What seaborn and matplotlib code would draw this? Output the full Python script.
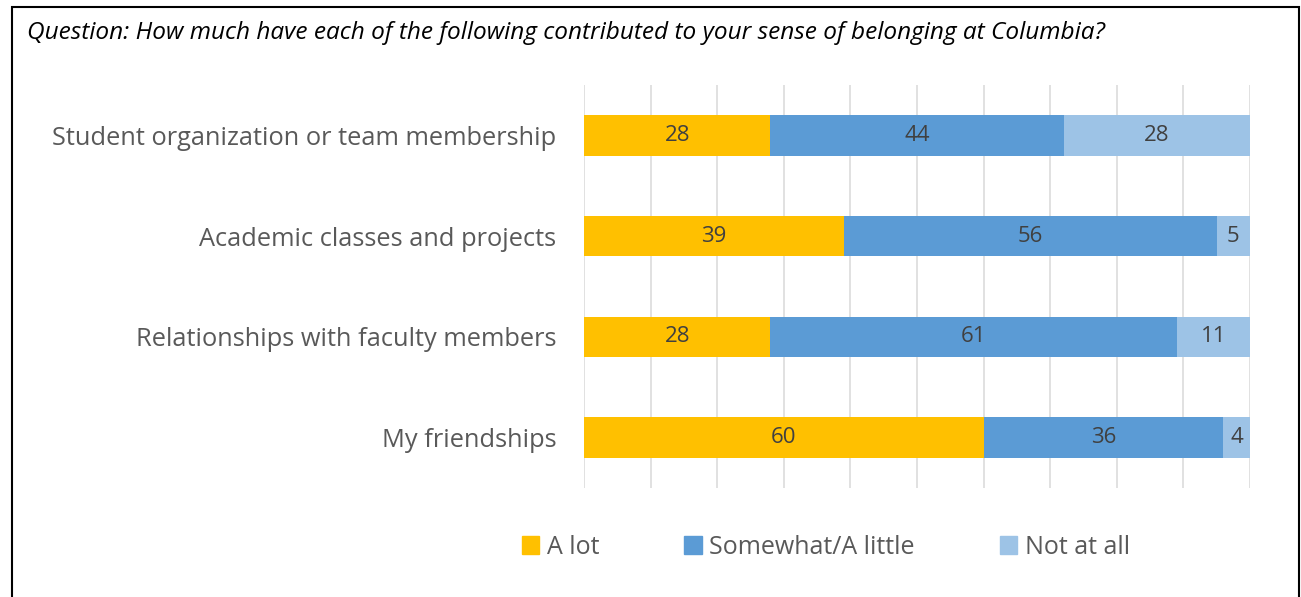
import matplotlib
matplotlib.use("Agg")
import matplotlib.pyplot as plt
import matplotlib.patches as mpatches
import seaborn as sns
import pandas as pd
import numpy as np

# datos
categorias = ["Student organization or team membership",
              "Academic classes and projects",
              "Relationships with faculty members",
              "My friendships"]
a_lot = [28, 39, 28, 60]
somewhat = [44, 56, 61, 36]
not_at_all = [28, 5, 11, 4]
series = ["A lot", "Somewhat/A little", "Not at all"]
colores = ["#FFC000", "#5B9BD5", "#9DC3E6"]

df = pd.DataFrame({"cat": categorias, "a": a_lot, "s": somewhat, "n": not_at_all})
df["c1"] = df["a"]
df["c2"] = df["a"] + df["s"]
df["c3"] = df["a"] + df["s"] + df["n"]

sns.set_theme(style="white")
plt.rcParams["font.family"] = ["Open Sans", "DejaVu Sans"]

fig = plt.figure(figsize=(13.01, 5.97), dpi=100)
ax = fig.add_axes([584 / 1301, 1 - 488 / 597, 666 / 1301, 403 / 597])

# barras apiladas: se dibuja primero el total y encima los acumulados
for col, color in zip(["c3", "c2", "c1"], colores[::-1]):
    sns.barplot(data=df, x=col, y="cat", orient="h", color=color, width=0.4,
                saturation=1, ax=ax, linewidth=0, zorder=3)

for i in range(len(df)):
    izq = 0
    for val in [df["a"][i], df["s"][i], df["n"][i]]:
        ax.text(izq + val / 2, i, str(val), ha="center", va="center",
                fontsize=16, color="#404040", zorder=4)
        izq += val

ax.set_xlim(0, 100)
ax.set_ylim(3.5, -0.5)
ax.set_xticks(np.arange(0, 101, 10))
ax.set_xticklabels([])
ax.grid(axis="x", color="#D9D9D9", linewidth=1.1, zorder=0)
ax.tick_params(axis="x", length=0)
ax.tick_params(axis="y", length=0, labelsize=18.3, labelcolor="#595959", pad=20)
ax.set_xlabel("")
ax.set_ylabel("")
for s in ax.spines.values():
    s.set_visible(False)

handles = [mpatches.Patch(color=c, label=l) for c, l in zip(colores, series)]
fig.legend(handles=handles, loc="center", bbox_to_anchor=(826 / 1301, 1 - 547 / 597),
           ncol=3, frameon=False, fontsize=18, labelcolor="#595959",
           handlelength=0.7, handleheight=0.7, handletextpad=0.3, columnspacing=3.4)

fig.text(27 / 1301, 1 - 33 / 597,
         "Question: How much have each of the following contributed to your sense of belonging at Columbia?",
         fontsize=17.6, style="italic", color="black", ha="left", va="center")

# marco exterior
fig.patches.append(mpatches.Rectangle((12 / 1301, -0.01), 1287 / 1301, 1 - 7 / 597 + 0.01,
                                      transform=fig.transFigure, fill=False,
                                      edgecolor="black", linewidth=1.5))

fig.savefig("out.png", dpi=100)
